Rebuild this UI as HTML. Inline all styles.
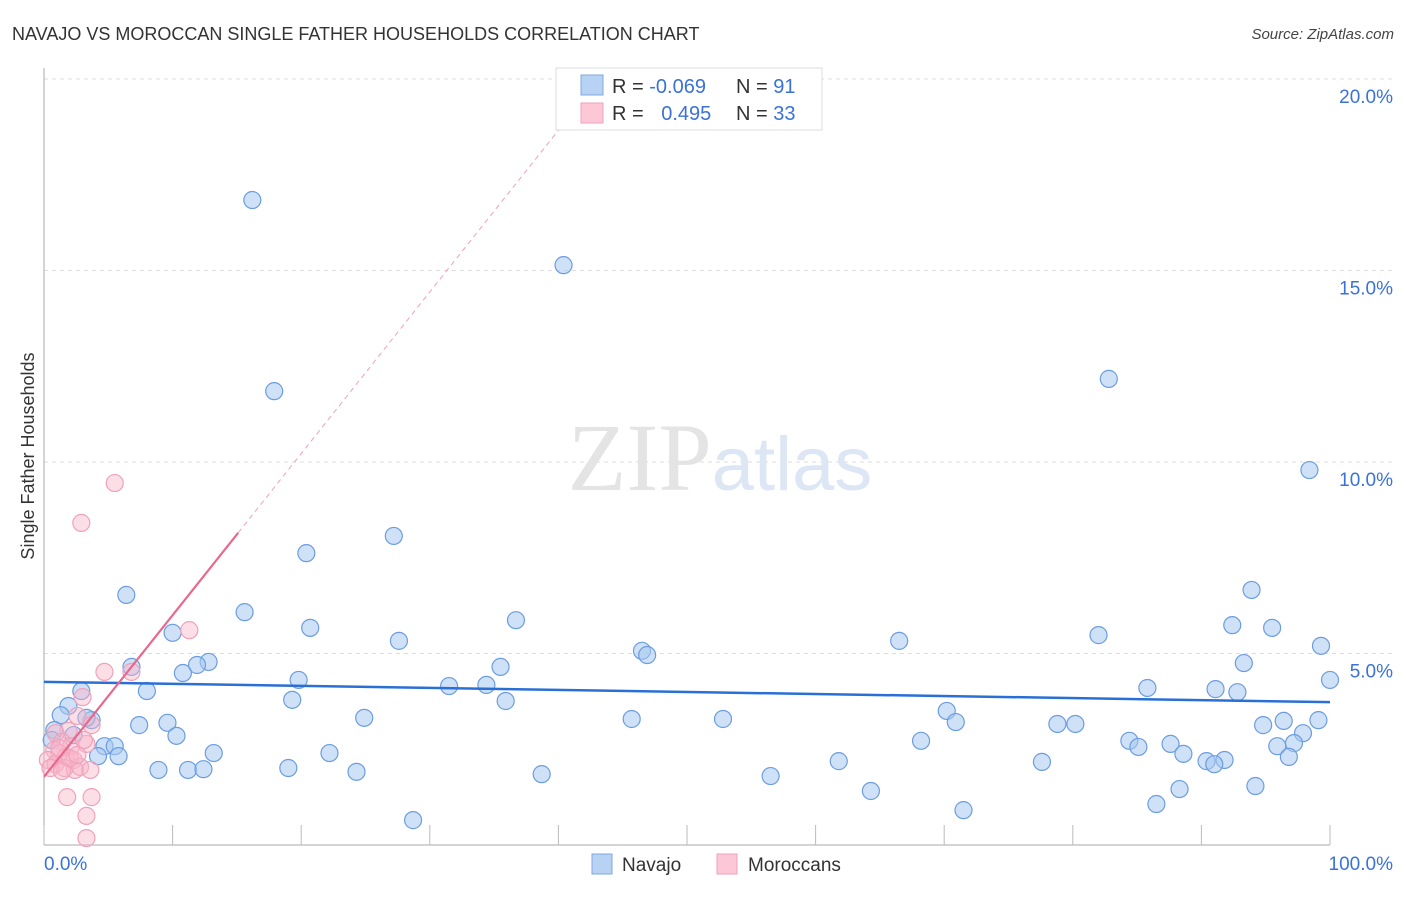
<!DOCTYPE html>
<html><head><meta charset="utf-8"><style>
body{margin:0;background:#fff;font-family:"Liberation Sans",sans-serif}
svg text{font-family:"Liberation Sans",sans-serif}
</style></head><body>
<svg id="chart" width="1406" height="892" xmlns="http://www.w3.org/2000/svg">
<text x="12" y="40" font-size="18" fill="#333">NAVAJO VS MOROCCAN SINGLE FATHER HOUSEHOLDS CORRELATION CHART</text>
<text x="1394" y="39" font-size="15" fill="#444" text-anchor="end" font-style="italic">Source: ZipAtlas.com</text>
<text transform="translate(34,456) rotate(-90)" font-size="18" fill="#333" text-anchor="middle">Single Father Households</text>
<g id="grid"></g>
<g id="axes"></g>
<text x="720" y="490" font-size="96" text-anchor="middle" fill="#e4e4e4"><tspan font-family="Liberation Serif">ZIP</tspan><tspan fill="#dce6f4" font-size="76">atlas</tspan></text>
<g id="marks"></g>
<g id="lines"></g>
<g>
<rect x="556" y="68" width="266" height="62" fill="#fff" stroke="#ddd"/>
<rect x="581" y="75" width="22" height="20" fill="#b8d2f4" stroke="#7ea8e0"/>
<rect x="581" y="103" width="22" height="20" fill="#fcc8d8" stroke="#f0a0b8"/>
<text x="612" y="93" font-size="20" fill="#333">R = <tspan fill="#3a72d8">-0.069</tspan></text>
<text x="736" y="93" font-size="20" fill="#333">N = <tspan fill="#3a72d8"> 91</tspan></text>
<text x="612" y="120" font-size="20" fill="#333">R = <tspan fill="#3a72d8" dx="12">0.495</tspan></text>
<text x="736" y="120" font-size="20" fill="#333">N = <tspan fill="#3a72d8">33</tspan></text>
</g>
<g>
<rect x="592" y="854" width="20" height="20" fill="#b8d2f4" stroke="#7ea8e0"/>
<text x="622" y="871" font-size="19" fill="#333">Navajo</text>
<rect x="717" y="854" width="20" height="20" fill="#fcc8d8" stroke="#f0a0b8"/>
<text x="748" y="871" font-size="19" fill="#333">Moroccans</text>
</g>
</svg>
<script>
const yTicks=[5,10,15,20];
const yTickLabels=["5.0%","10.0%","15.0%","20.0%"];
const xTicks=[0,10,20,30,40,50,60,70,80,90,100];
const navajoX=[16.2,40.4,17.9,82.8,98.4,27.2,20.4,6.4,15.6,93.9,36.7,20.7,10.0,27.6,82.0,92.4,95.5,66.5,99.3,46.5,46.9,12.8,11.9,6.8,10.8,93.3,35.5,19.8,31.5,34.4,2.9,8.0,100,85.8,91.1,92.8,19.3,35.9,1.9,1.3,3.7,3.3,24.9,45.7,52.8,78.8,80.2,96.4,99.1,94.8,70.2,70.9,7.4,9.6,0.8,2.3,10.3,97.9,68.2,84.4,85.1,87.6,95.9,97.2,4.7,5.5,0.6,13.2,22.2,4.2,5.8,88.6,96.8,61.8,77.6,90.4,91.8,91.0,8.9,11.2,12.4,19.0,24.3,38.7,56.5,94.2,64.3,88.3,86.5,71.5,28.7];
const navajoY=[16.84,15.14,11.85,12.17,9.79,8.07,7.62,6.53,6.08,6.66,5.87,5.67,5.54,5.33,5.48,5.74,5.67,5.33,5.20,5.07,4.96,4.78,4.70,4.65,4.49,4.75,4.65,4.31,4.15,4.18,4.02,4.02,4.31,4.10,4.07,3.99,3.79,3.76,3.63,3.39,3.26,3.32,3.32,3.29,3.29,3.16,3.16,3.24,3.26,3.13,3.50,3.21,3.13,3.19,3.00,2.87,2.85,2.92,2.72,2.72,2.56,2.64,2.58,2.66,2.58,2.58,2.74,2.40,2.40,2.32,2.32,2.38,2.30,2.19,2.17,2.19,2.22,2.11,1.96,1.96,1.98,2.01,1.91,1.85,1.80,1.54,1.41,1.46,1.07,0.91,0.65];
const morX=[5.5,2.9,11.3,4.7,6.8,3.0,2.6,3.7,1.9,0.9,1.4,2.1,3.3,0.8,1.2,1.7,2.3,0.3,0.9,1.6,2.4,2.8,3.6,0.5,1.4,2.0,1.8,3.7,3.3,3.3,1.2,2.6,3.1];
const morY=[9.45,8.41,5.61,4.52,4.52,3.86,3.37,3.13,2.98,2.92,2.69,2.58,2.64,2.48,2.40,2.30,2.22,2.22,2.11,2.01,1.96,2.04,1.96,2.01,1.93,2.27,1.25,1.25,0.76,0.18,2.53,2.35,2.74];
const navTrend=[4.26,3.73];
const morTrend=[1.78,0.422];
const NS="http://www.w3.org/2000/svg";
const X0=44,X1=1330,Y0=845,PPY=38.3;
const sx=v=>X0+(X1-X0)*v/100;
const sy=v=>Y0-v*PPY;
function mk(t,a,p){const e=document.createElementNS(NS,t);for(const k in a)e.setAttribute(k,a[k]);p.appendChild(e);return e;}
const grid=document.getElementById('grid'),axes=document.getElementById('axes'),marks=document.getElementById('marks'),lines=document.getElementById('lines');
yTicks.forEach((v,i)=>{
 const l=mk('line',{x1:X0,x2:1394,y1:sy(v),y2:sy(v),stroke:'#ddd','stroke-dasharray':'4,4'},grid);
 
 
 const t=mk('text',{x:1393,y:sy(v)+24,'font-size':19,fill:'#3a72d8','text-anchor':'end'},grid);
 t.textContent=yTickLabels[i];
 
 
});
const ax=mk('line',{x1:X0,x2:X0,y1:68,y2:Y0,stroke:'#aaa'},axes);


const bx=mk('line',{x1:X0,x2:X1,y1:Y0,y2:Y0,stroke:'#aaa'},axes);


xTicks.forEach(v=>{
 const t=mk('line',{x1:sx(v),x2:sx(v),y1:825,y2:Y0,stroke:'#bbb'},axes);
 
 
});
[['0.0%',X0,'start'],['100.0%',1393,'end']].forEach(a=>{
 const t=mk('text',{x:a[1],y:870,'font-size':19,fill:'#3a72d8','text-anchor':a[2]},axes);
 t.textContent=a[0];
 
 
});
navajoX.forEach((x,i)=>{
 const c=mk('circle',{cx:sx(x),cy:sy(navajoY[i]),r:8.5,fill:'rgba(168,200,240,0.55)',stroke:'#6c9de0','stroke-width':1.2},marks);
 
 
});
morX.forEach((x,i)=>{
 const c=mk('circle',{cx:sx(x),cy:sy(morY[i]),r:8.5,fill:'rgba(248,182,202,0.45)',stroke:'#f0a2ba','stroke-width':1.2},marks);
 
 
});
const nl=mk('line',{x1:sx(0),y1:sy(navTrend[0]),x2:sx(100),y2:sy(navTrend[1]),stroke:'#2a6fd6','stroke-width':2.5},lines);


const mEnd=15.1,mTop=(20-morTrend[0])/morTrend[1];
const ml=mk('line',{x1:sx(0),y1:sy(morTrend[0]),x2:sx(mEnd),y2:sy(morTrend[0]+morTrend[1]*mEnd),stroke:'#e8688e','stroke-width':2.2},lines);


const md=mk('line',{x1:sx(mEnd),y1:sy(morTrend[0]+morTrend[1]*mEnd),x2:sx(mTop),y2:sy(20),stroke:'#f0a0b8','stroke-width':1,'stroke-dasharray':'5,4'},lines);


</script>
</body></html>
